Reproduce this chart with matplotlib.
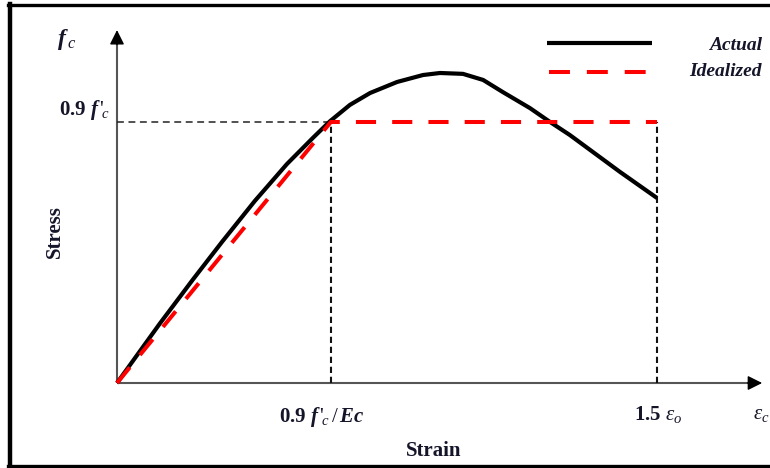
import matplotlib
matplotlib.use("Agg")
import matplotlib.pyplot as plt
from matplotlib.lines import Line2D

plt.rcParams['font.family'] = ['Liberation Serif', 'DejaVu Serif']
plt.rcParams['mathtext.fontset'] = 'custom'
plt.rcParams['mathtext.rm'] = 'Liberation Serif'
plt.rcParams['mathtext.it'] = 'Liberation Serif:italic'
plt.rcParams['mathtext.bf'] = 'Liberation Serif:bold'
plt.rcParams['mathtext.bfit'] = 'Liberation Serif:italic:bold'

# Data (strain in units of eps_o, stress in units of f'c)
actual_strain = [0.0, 0.119, 0.211, 0.292, 0.383, 0.472, 0.544, 0.592, 0.647, 0.703,
                 0.778, 0.850, 0.897, 0.961, 1.017, 1.072, 1.147, 1.203, 1.258, 1.397, 1.5]
actual_stress = [0.0, 0.205, 0.357, 0.487, 0.628, 0.755, 0.845, 0.903, 0.959, 1.000,
                 1.038, 1.062, 1.069, 1.066, 1.045, 1.003, 0.948, 0.900, 0.855, 0.728, 0.638]
ideal_strain = [0.0, 0.594, 1.5]
ideal_stress = [0.0, 0.9, 0.9]
eps_yield = 0.594
eps_ult = 1.5
stress_yield = 0.9

fig = plt.figure(figsize=(7.7, 4.68), dpi=100)
ax = fig.add_axes([0, 0, 1, 1])
ax.set_xlim(-117 / 360, 653 / 360)
ax.set_ylim(-85 / 290, 383 / 290)
ax.axis('off')

tc = '#15152a'

# axes with arrows
x_tip, y_tip = 1.792, 1.217
ax.plot([0, x_tip - 0.03], [0, 0], color='#555555', lw=1.5, solid_capstyle='butt', zorder=2)
ax.plot([0, 0], [0, y_tip - 0.04], color='#555555', lw=1.5, solid_capstyle='butt', zorder=2)
ax.annotate('', xy=(x_tip, 0), xytext=(x_tip - 0.04, 0),
            arrowprops=dict(arrowstyle='-|>', color='black', lw=1, mutation_scale=22,
                            shrinkA=0, shrinkB=0))
ax.annotate('', xy=(0, y_tip), xytext=(0, y_tip - 0.05),
            arrowprops=dict(arrowstyle='-|>', color='black', lw=1, mutation_scale=22,
                            shrinkA=0, shrinkB=0))

# guide lines
ax.plot([0, eps_yield], [stress_yield, stress_yield], color='#222222', lw=1.1,
        dashes=(4.5, 3), zorder=2)
ax.plot([eps_yield, eps_yield], [0, stress_yield], color='#111111', lw=1.5,
        dashes=(3, 1.8), zorder=2)
ax.plot([eps_ult, eps_ult], [0, stress_yield], color='#111111', lw=1.5,
        dashes=(3, 1.8), zorder=2)

# curves
ax.plot(actual_strain, actual_stress, color='black', lw=3, solid_joinstyle='round',
        solid_capstyle='butt', zorder=3)
ax.plot(ideal_strain, ideal_stress, color='#ff0000', lw=2.9, dashes=(5, 4),
        dash_capstyle='butt', zorder=4)

# legend (manual)
T = ax.transAxes
ax.add_line(Line2D([547 / 770, 652 / 770], [1 - 43 / 468, 1 - 43 / 468], transform=T,
                   color='black', lw=3, solid_capstyle='butt'))
ax.add_line(Line2D([549 / 770, 646 / 770], [1 - 72 / 468, 1 - 72 / 468], transform=T,
                   color='#ff0000', lw=2.9, dashes=(5.2, 4.2), dash_capstyle='butt'))
ax.text(762 / 770, 1 - 46 / 468, 'Actual', transform=T, ha='right', va='center',
        fontsize=14, fontweight='bold', fontstyle='italic', color=tc)
ax.text(762 / 770, 1 - 71 / 468, 'Idealized', transform=T, ha='right', va='center',
        fontsize=14, fontweight='bold', fontstyle='italic', color=tc)

# labels
ax.text(-0.139, 1.183, r"$\mathbfit{f}_{\,\mathit{c}}$", ha='center', va='center',
        fontsize=17, color=tc)
ax.text(-0.02, stress_yield + 0.041, r"$\mathbf{0.9}\ \mathbfit{f}\,'_{\!\mathit{c}}$",
        ha='right', va='center', fontsize=15, color=tc)
ax.text(-0.172, 0.521, 'Stress', rotation=90, ha='center', va='center',
        fontsize=15, fontweight='bold', color=tc)
ax.text(eps_yield - 0.025, -0.117,
        r"$\mathbf{0.9}\ \mathbfit{f}\,'_{\!\mathit{c}}\,\mathit{/}\,\mathbfit{Ec}$",
        ha='center', va='center', fontsize=15, color=tc)
ax.text(0.881, -0.2345, 'Strain', ha='center', va='center', fontsize=15,
        fontweight='bold', color=tc)
ax.text(eps_ult + 0.003, -0.107, r"$\mathbf{1.5}\ \mathit{\varepsilon_o}$",
        ha='center', va='center', fontsize=15, color=tc)
ax.text(1.8125, -0.107, r"$\mathit{\varepsilon_c}$", ha='right', va='center',
        fontsize=15, color=tc)

# frame
F = fig.transFigure
fig.add_artist(Line2D([10 / 770, 10 / 770], [0, 1 - 4 / 468], transform=F, color='black', lw=3.2))
fig.add_artist(Line2D([8 / 770, 1], [1 - 5 / 468, 1 - 5 / 468], transform=F, color='black', lw=2.4))
fig.add_artist(Line2D([8 / 770, 1], [2 / 468, 2 / 468], transform=F, color='black', lw=2.4))

fig.savefig('out.png', dpi=100)
